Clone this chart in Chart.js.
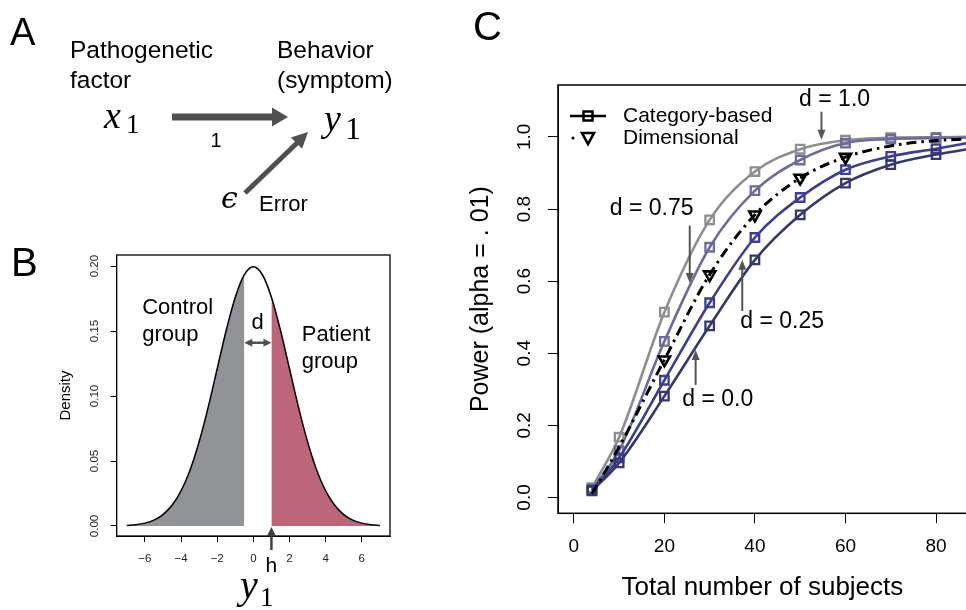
<!DOCTYPE html>
<html>
<head>
<meta charset="utf-8">
<script src="https://cdn.jsdelivr.net/npm/chart.js@4.4.1/dist/chart.umd.min.js"></script>
<style>
html,body{margin:0;padding:0;width:966px;height:610px;overflow:hidden;background:#fff;}
#cB{position:absolute;left:0;top:230px;}
#cC{position:absolute;left:440px;top:0;}
#overlay{position:absolute;left:0;top:0;pointer-events:none;}
</style>
</head>
<body>
<canvas id="cB" width="420" height="380"></canvas>
<canvas id="cC" width="540" height="610"></canvas>
<svg id="overlay" width="966" height="610" xmlns="http://www.w3.org/2000/svg">
  <g font-family="'Liberation Sans', Arial, Helvetica, sans-serif" fill="#000">
    <text x="10" y="45" font-size="38">A</text>
    <text x="11" y="276" font-size="40">B</text>
    <text x="473" y="40" font-size="40">C</text>
    <text x="70" y="58" font-size="24.5">Pathogenetic</text>
    <text x="70" y="88" font-size="24.5">factor</text>
    <text x="277" y="58" font-size="24.5">Behavior</text>
    <text x="277" y="88" font-size="24.5">(symptom)</text>
    <text x="216" y="147" font-size="20" text-anchor="middle">1</text>
    <text x="259" y="211" font-size="22">Error</text>
  </g>
  <g font-family="'Liberation Serif', 'DejaVu Serif', serif" fill="#000">
    <text x="104" y="128" font-size="38" font-style="italic">x</text>
    <text x="126" y="133" font-size="27">1</text>
    <text x="324" y="131" font-size="38" font-style="italic">y</text>
    <text x="345" y="139" font-size="32">1</text>
    <text x="221" y="208" font-size="30" font-style="italic" font-family="'DejaVu Serif', serif">ϵ</text>
    <text x="240" y="598" font-size="40" font-style="italic">y</text>
    <text x="260" y="606" font-size="27">1</text>
  </g>
  <g fill="#505050" stroke="none">
    <rect x="172" y="113.5" width="102" height="7"/>
    <polygon points="272,107.5 288,117 272,126.5"/>
    <line x1="245" y1="193" x2="297" y2="143" stroke="#505050" stroke-width="5"/>
    <polygon points="308,132 302.1,148.8 290.9,137.4"/>
  </g>
</svg>
<script>
// ---------- Panel B data (normal density of the symptom y1) ----------
const y1Values = [-7,-6.5,-6,-5.5,-5,-4.5,-4,-3.5,-3,-2.5,-2,-1.5,-1,-0.5,0,0.5,1,1.5,2,2.5,3,3.5,4,4.5,5,5.5,6,6.5,7];
const densityValues = [0.0004,0.0010,0.0022,0.0045,0.0088,0.0159,0.0270,0.0431,0.0648,0.0913,0.1210,0.1506,0.1760,0.1933,0.1995,0.1933,0.1760,0.1506,0.1210,0.0913,0.0648,0.0431,0.0270,0.0159,0.0088,0.0045,0.0022,0.0010,0.0004];
const controlUpper = -0.5;   // control group shaded up to here
const thresholdH = 1;        // h : patient group shaded from here
const densityTicksX = [-6,-4,-2,0,2,4,6];
const densityTicksY = [0,0.05,0.10,0.15,0.20];

// ---------- Panel C data (power curves) ----------
const subjects   = [4, 10, 20, 30, 40, 50, 60, 70, 80, 87];
const powerD100  = [0.027, 0.167, 0.514, 0.770, 0.904, 0.966, 0.991, 0.998, 0.999, 1.000];
const powerD075  = [0.023, 0.130, 0.433, 0.694, 0.851, 0.936, 0.983, 0.994, 0.997, 0.998];
const powerD025  = [0.020, 0.110, 0.325, 0.540, 0.721, 0.832, 0.909, 0.946, 0.967, 0.983];
const powerD000  = [0.018, 0.096, 0.281, 0.476, 0.659, 0.784, 0.872, 0.923, 0.951, 0.966];
const powerDim   = [0.010, 0.140, 0.382, 0.618, 0.784, 0.886, 0.944, 0.975, 0.990, 0.994];
const dimensionalMarked = [20, 30, 40, 50, 60];
const squaresUpTo = 80;
const powerTicksX = [0, 20, 40, 60, 80];
const powerTicksY = [0, 0.2, 0.4, 0.6, 0.8, 1.0];

Chart.defaults.font.family = "'Liberation Sans', Arial, Helvetica, sans-serif";
Chart.defaults.color = '#000';
Chart.defaults.animation = false;

function arrow(ctx, x1, y1, x2, y2, color, lw, hl, hw, both) {
  ctx.save();
  ctx.strokeStyle = color; ctx.fillStyle = color; ctx.lineWidth = lw;
  const a = Math.atan2(y2 - y1, x2 - x1);
  const ux = Math.cos(a), uy = Math.sin(a);
  const sx = both ? x1 + ux * hl * 0.8 : x1, sy = both ? y1 + uy * hl * 0.8 : y1;
  ctx.beginPath(); ctx.moveTo(sx, sy); ctx.lineTo(x2 - ux * hl * 0.8, y2 - uy * hl * 0.8); ctx.stroke();
  const head = (tx, ty, dx, dy) => {
    ctx.beginPath();
    ctx.moveTo(tx, ty);
    ctx.lineTo(tx - dx * hl - dy * hw / 2, ty - dy * hl + dx * hw / 2);
    ctx.lineTo(tx - dx * hl + dy * hw / 2, ty - dy * hl - dx * hw / 2);
    ctx.closePath(); ctx.fill();
  };
  head(x2, y2, ux, uy);
  if (both) head(x1, y1, -ux, -uy);
  ctx.restore();
}

const axisCommon = (tickLen) => ({
  grid: { display: true, drawOnChartArea: false, drawTicks: true, tickLength: tickLen, color: '#000', lineWidth: 1 },
  border: { display: true, color: '#000', width: 1 }
});

// ---------- Panel B ----------
const bPlugin = {
  id: 'bPlugin',
  afterDatasetsDraw(chart) {
    const { ctx, chartArea: a } = chart;
    ctx.save(); ctx.strokeStyle = '#000'; ctx.lineWidth = 1.3;
    ctx.strokeRect(a.left, a.top, a.right - a.left, a.bottom - a.top);
    ctx.restore();
  },
  afterDraw(chart) {
    const { ctx, scales: { x, y } } = chart;
    ctx.save();
    ctx.fillStyle = '#000';
    ctx.font = "22px 'Liberation Sans', Arial, sans-serif";
    ctx.textAlign = 'left'; ctx.textBaseline = 'alphabetic';
    ctx.fillText('Control', x.getPixelForValue(-6.15), y.getPixelForValue(0.163));
    ctx.fillText('group', x.getPixelForValue(-6.15), y.getPixelForValue(0.142));
    ctx.fillText('Patient', x.getPixelForValue(2.68), y.getPixelForValue(0.1425));
    ctx.fillText('group', x.getPixelForValue(2.68), y.getPixelForValue(0.1213));
    ctx.textAlign = 'center';
    ctx.fillText('d', x.getPixelForValue(0.24), y.getPixelForValue(0.1515));
    arrow(ctx, x.getPixelForValue(controlUpper), y.getPixelForValue(0.141), x.getPixelForValue(thresholdH), y.getPixelForValue(0.141), '#505050', 2.5, 8, 8, true);
    arrow(ctx, x.getPixelForValue(thresholdH), y.getPixelForValue(0) + 24, x.getPixelForValue(thresholdH), y.getPixelForValue(0) + 1, '#404040', 2.5, 9, 9, false);
    ctx.font = "21px 'Liberation Sans', Arial, sans-serif";
    ctx.fillText('h', x.getPixelForValue(thresholdH), y.getPixelForValue(0) + 46);
    ctx.restore();
  }
};

const curvePts = y1Values.map((v, i) => ({ x: v, y: densityValues[i] }));
new Chart(document.getElementById('cB'), {
  type: 'line',
  data: {
    datasets: [
      { data: curvePts, borderColor: '#000', borderWidth: 1.5, pointRadius: 0, fill: false, cubicInterpolationMode: 'monotone' },
      { data: curvePts.filter(p => p.x <= controlUpper), borderWidth: 0, borderColor: 'rgba(0,0,0,0)', pointRadius: 0, fill: 'origin', backgroundColor: '#929397', cubicInterpolationMode: 'monotone' },
      { data: curvePts.filter(p => p.x >= thresholdH), borderWidth: 0, borderColor: 'rgba(0,0,0,0)', pointRadius: 0, fill: 'origin', backgroundColor: '#bd6579', cubicInterpolationMode: 'monotone' }
    ]
  },
  options: {
    responsive: false,
    animation: false,
    layout: { padding: { left: 0, top: 25, right: 30, bottom: 0 } },
    plugins: { legend: { display: false }, tooltip: { enabled: false } },
    scales: {
      x: {
        type: 'linear', min: -7.56, max: 7.56,
        ...axisCommon(6),
        afterBuildTicks: s => { s.ticks = densityTicksX.map(v => ({ value: v })); },
        ticks: { autoSkip: false, maxRotation: 0, padding: 10, color: '#222', font: { size: 11.5 },
                 callback: v => (v < 0 ? '\u2212' + Math.abs(v) : String(v)) },
        afterFit: s => { s.height = 74; }
      },
      y: {
        type: 'linear', min: -0.0077, max: 0.2085,
        ...axisCommon(6),
        afterBuildTicks: s => { s.ticks = densityTicksY.map(v => ({ value: v })); },
        ticks: { autoSkip: false, minRotation: 90, maxRotation: 90, crossAlign: 'center', padding: 5, color: '#222', font: { size: 11.5 },
                 callback: v => v.toFixed(2) },
        title: { display: true, text: 'Density', font: { size: 15 }, padding: { top: 57, bottom: 0 } },
        afterFit: s => { s.width = 116.7; }
      }
    }
  },
  plugins: [bPlugin]
});

// ---------- Panel C ----------
const cPlugin = {
  id: 'cPlugin',
  afterDatasetsDraw(chart) {
    const { ctx, chartArea: a } = chart;
    ctx.save(); ctx.strokeStyle = '#000'; ctx.lineWidth = 1.5;
    ctx.strokeRect(a.left, a.top, a.right - a.left, a.bottom - a.top);
    ctx.restore();
  },
  afterDraw(chart) {
    const { ctx, chartArea: a, scales: { x, y } } = chart;
    ctx.save();
    // legend
    const L = a.left, T = a.top;
    ctx.strokeStyle = '#000'; ctx.lineWidth = 2.5;
    ctx.beginPath(); ctx.moveTo(L + 12, T + 31); ctx.lineTo(L + 48, T + 31); ctx.stroke();
    ctx.fillStyle = '#fff';
    ctx.fillRect(L + 25.5, T + 26.5, 9, 9);
    ctx.strokeRect(L + 25.5, T + 26.5, 9, 9);
    ctx.beginPath(); ctx.moveTo(L + 25.5, T + 31); ctx.lineTo(L + 34.5, T + 31); ctx.stroke();
    ctx.fillStyle = '#000';
    ctx.beginPath(); ctx.arc(L + 15, T + 53, 1.5, 0, Math.PI * 2); ctx.fill();
    ctx.lineWidth = 2.6;
    ctx.beginPath(); ctx.moveTo(L + 24, T + 48); ctx.lineTo(L + 36, T + 48); ctx.lineTo(L + 30, T + 59); ctx.closePath(); ctx.stroke();
    ctx.font = "21px 'Liberation Sans', Arial, sans-serif";
    ctx.textAlign = 'left'; ctx.textBaseline = 'middle';
    ctx.fillText('Category-based', L + 65, T + 31);
    ctx.fillText('Dimensional', L + 65, T + 53);
    // annotations
    ctx.font = "23px 'Liberation Sans', Arial, sans-serif";
    ctx.textAlign = 'center';
    const notes = [
      { t: 'd = 1.0',  tx: 57.6, ty: 1.104, ax: 54.7, a0: 1.070, a1: 0.992 },
      { t: 'd = 0.75', tx: 17.2, ty: 0.800, ax: 25.6, a0: 0.754, a1: 0.595 },
      { t: 'd = 0.25', tx: 46.0, ty: 0.487, ax: 37.2, a0: 0.517, a1: 0.659 },
      { t: 'd = 0.0',  tx: 31.8, ty: 0.272, ax: 26.9, a0: 0.312, a1: 0.409 }
    ];
    notes.forEach(n => {
      ctx.fillStyle = '#000';
      ctx.fillText(n.t, x.getPixelForValue(n.tx), y.getPixelForValue(n.ty));
      arrow(ctx, x.getPixelForValue(n.ax), y.getPixelForValue(n.a0), x.getPixelForValue(n.ax), y.getPixelForValue(n.a1), '#555', 2, 10, 8, false);
    });
    ctx.restore();
  }
};

function catSeries(label, values, color) {
  return {
    label, data: subjects.map((s, i) => ({ x: s, y: values[i] })),
    borderColor: color, borderWidth: 2.6, fill: false, cubicInterpolationMode: 'monotone',
    pointStyle: 'rect', pointRadius: c => (subjects[c.dataIndex] <= squaresUpTo ? 6 : 0),
    pointBorderColor: color, pointBackgroundColor: 'rgba(255,255,255,0)', pointBorderWidth: 2.3
  };
}

new Chart(document.getElementById('cC'), {
  type: 'line',
  data: {
    datasets: [
      {
        label: 'Dimensional', data: subjects.map((s, i) => ({ x: s, y: powerDim[i] })),
        borderColor: '#000', borderWidth: 3, borderDash: [10, 5, 2.5, 5], fill: false, cubicInterpolationMode: 'monotone',
        pointStyle: 'triangle', pointRotation: 180,
        pointRadius: c => (dimensionalMarked.includes(subjects[c.dataIndex]) ? 6.5 : 0),
        pointBorderColor: '#000', pointBackgroundColor: 'rgba(255,255,255,0)', pointBorderWidth: 2.6
      },
      catSeries('d = 0.0', powerD000, '#35376f'),
      catSeries('d = 0.25', powerD025, '#3b3e93'),
      catSeries('d = 0.75', powerD075, '#6b6b9c'),
      catSeries('d = 1.0', powerD100, '#8d8d92')
    ]
  },
  options: {
    responsive: false,
    animation: false,
    layout: { padding: { left: 0, top: 85, right: 13.2, bottom: 0 } },
    plugins: { legend: { display: false }, tooltip: { enabled: false } },
    scales: {
      x: {
        type: 'linear', min: -3.5, max: 86.8,
        ...axisCommon(10),
        afterBuildTicks: s => { s.ticks = powerTicksX.map(v => ({ value: v })); },
        ticks: { autoSkip: false, maxRotation: 0, padding: 12, font: { size: 19 }, callback: v => String(v) },
        title: { display: true, text: 'Total number of subjects', font: { size: 26 }, padding: { top: 0, bottom: 6.4 } },
        afterFit: s => { s.height = 96.7; }
      },
      y: {
        type: 'linear', min: -0.044, max: 1.144,
        ...axisCommon(10),
        afterBuildTicks: s => { s.ticks = powerTicksY.map(v => ({ value: v })); },
        ticks: { autoSkip: false, minRotation: 90, maxRotation: 90, crossAlign: 'center', padding: 10, font: { size: 19 },
                 callback: v => v.toFixed(1) },
        title: { display: true, text: 'Power (alpha = . 01)', font: { size: 25 }, padding: { top: 26, bottom: 0 } },
        afterFit: s => { s.width = 118; }
      }
    }
  },
  plugins: [cPlugin]
});
</script>
</body>
</html>
